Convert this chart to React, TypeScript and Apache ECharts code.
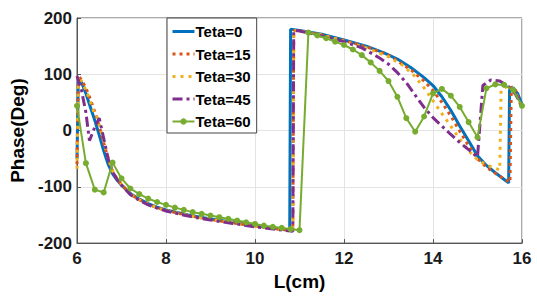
import React, { useEffect, useRef } from "react";
import * as echarts from "echarts";

const seriesNames = ["Teta=0", "Teta=15", "Teta=30", "Teta=45", "Teta=60"];
const xTicks = [6, 8, 10, 12, 14, 16];
const yTicks = [-200, -100, 0, 100, 200];

const teta0: number[][] = [
  [6.0, -50], [6.03, 92], [6.1, 86], [6.2, 66], [6.3, 42], [6.4, 18], [6.5, -8], [6.6, -36],
  [6.7, -60], [6.8, -77], [6.9, -88], [7.0, -97], [7.2, -112], [7.4, -122], [7.6, -130],
  [7.8, -136], [8.0, -141], [8.5, -150], [9.0, -157], [9.5, -163], [10.0, -169], [10.5, -174],
  [10.78, -177], [10.8, 180], [11.0, 178], [11.5, 171], [12.0, 161], [12.5, 150], [12.9, 138],
  [13.2, 127], [13.5, 112], [13.8, 94], [14.0, 80], [14.2, 60], [14.4, 36], [14.6, 8],
  [14.8, -18], [15.0, -45], [15.2, -62], [15.4, -75], [15.6, -87], [15.7, -93], [15.72, 72],
  [15.8, 76], [15.9, 66], [16.0, 46],
];

const teta15: number[][] = [
  [6.0, -60], [6.03, 98], [6.1, 90], [6.2, 76], [6.3, 56], [6.4, 33], [6.5, 8], [6.6, -22],
  [6.7, -50], [6.8, -72], [6.9, -86], [7.0, -96], [7.2, -113], [7.4, -123], [7.6, -131],
  [7.8, -137], [8.0, -142], [8.5, -151], [9.0, -158], [9.5, -164], [10.0, -170], [10.5, -175],
  [10.85, -178], [10.87, 178], [11.0, 177], [11.5, 170], [12.0, 160], [12.5, 149], [13.0, 134],
  [13.5, 108], [13.8, 88], [14.0, 71], [14.2, 50], [14.4, 26], [14.6, -1], [14.8, -27],
  [15.0, -50], [15.2, -65], [15.4, -76], [15.6, -86], [15.73, -92], [15.76, 78], [15.85, 72],
  [16.0, 38],
];

const teta30: number[][] = [
  [6.0, -68], [6.03, 96], [6.1, 88], [6.2, 72], [6.3, 52], [6.4, 28], [6.45, 24], [6.5, 10],
  [6.6, -20], [6.7, -48], [6.8, -72], [6.9, -86], [7.0, -96], [7.2, -113], [7.4, -123],
  [7.6, -131], [7.8, -137], [8.0, -142], [8.5, -151], [9.0, -158], [9.5, -164], [10.0, -170],
  [10.5, -175], [10.85, -178], [10.87, 178], [11.0, 177], [11.5, 170], [12.0, 159], [12.5, 147],
  [13.0, 131], [13.3, 117], [13.55, 100], [13.8, 76], [14.0, 53], [14.2, 30], [14.4, 8],
  [14.6, -15], [14.8, -36], [15.0, -52], [15.2, -61], [15.4, -67], [15.5, -70], [15.53, 72],
  [15.7, 80], [15.85, 68], [16.0, 42],
];

const teta45: number[][] = [
  [6.0, 97], [6.1, 72], [6.2, 32], [6.28, -18], [6.4, 6], [6.5, 22], [6.6, -14], [6.7, -50],
  [6.8, -73], [6.9, -87], [7.0, -97], [7.2, -114], [7.4, -124], [7.6, -132], [7.8, -138],
  [8.0, -143], [8.5, -152], [9.0, -159], [9.5, -165], [10.0, -171], [10.5, -176], [10.85, -179],
  [10.87, 178], [11.0, 177], [11.5, 168], [12.0, 158], [12.4, 147], [12.8, 129], [13.0, 118],
  [13.2, 103], [13.4, 85], [13.6, 63], [13.8, 41], [14.0, 23], [14.2, 8], [14.4, -7],
  [14.6, -21], [14.8, -34], [15.0, -47], [15.12, 80], [15.3, 90], [15.5, 88], [15.7, 78],
  [15.85, 65], [16.0, 44],
];

const teta60: number[][] = [
  [6.0, 44], [6.2, -58], [6.4, -105], [6.6, -110], [6.8, -57], [7.0, -85], [7.2, -103],
  [7.4, -113], [7.6, -121], [7.8, -127], [8.0, -132], [8.2, -137], [8.4, -141], [8.6, -145],
  [8.8, -148], [9.0, -151], [9.2, -154], [9.4, -157], [9.6, -160], [9.8, -163], [10.0, -166],
  [10.2, -169], [10.4, -171], [10.6, -173], [10.8, -175], [11.0, -177], [11.2, 174], [11.4, 169],
  [11.6, 164], [11.8, 158], [12.0, 152], [12.2, 144], [12.4, 134], [12.6, 121], [12.8, 106],
  [13.0, 88], [13.2, 60], [13.4, 22], [13.6, -2], [13.8, 25], [14.0, 66], [14.2, 74],
  [14.4, 62], [14.6, 42], [14.8, 15], [15.0, -12], [15.2, 75], [15.4, 82], [15.6, 81],
  [15.8, 72], [16.0, 44],
];

const allData = [teta0, teta15, teta30, teta45, teta60];
const colors = ["#0072BD", "#D95319", "#EDB120", "#7E2F8E", "#77AC30"];
const dashes: any[] = ["solid", [3, 4], [3, 5], [10, 4, 3, 4], "solid"];
const widths = [3, 3, 3, 3, 2];

const FONT = "'Liberation Sans', Arial, sans-serif";

export default function App() {
  const ref = useRef<HTMLDivElement>(null);
  useEffect(() => {
    if (!ref.current) return;
    const chart = echarts.init(ref.current, undefined, { renderer: "svg" });
    const series = allData.map((d, i) => ({
      name: seriesNames[i],
      type: "line",
      data: d,
      showSymbol: i === 4,
      symbol: i === 4 ? "circle" : "none",
      symbolSize: 6,
      itemStyle: { color: colors[i] },
      lineStyle: { color: colors[i], width: widths[i], type: dashes[i], cap: "butt" },
      z: 2 + i,
    }));
    chart.setOption({
      animation: false,
      backgroundColor: "#ffffff",
      textStyle: { fontFamily: FONT },
      grid: {
        left: 77,
        right: 15,
        top: 18,
        bottom: 50,
        show: true,
        borderColor: "#555555",
        borderWidth: 1,
        backgroundColor: "#ffffff",
      },
      legend: {
        orient: "vertical",
        left: 167,
        top: 18,
        itemWidth: 22,
        itemHeight: 8,
        itemGap: 7.5,
        padding: [6, 6, 4, 4],
        borderColor: "#444444",
        borderWidth: 1,
        backgroundColor: "#ffffff",
        lineStyle: { width: 3 },
        textStyle: { fontFamily: FONT, fontWeight: "bold", fontSize: 15, color: "#000000", padding: [0, 0, 0, -4] },
        data: seriesNames.map((n, i) =>
          i === 4 ? { name: n, lineStyle: { width: 2 } } : { name: n, itemStyle: { opacity: 0 } }
        ),
      },
      xAxis: {
        type: "value",
        min: 6,
        max: 16,
        interval: 2,
        name: "L(cm)",
        nameLocation: "middle",
        nameGap: 24,
        nameTextStyle: { fontFamily: FONT, fontWeight: "bold", fontSize: 19, color: "#000000" },
        axisLine: { show: true, onZero: false, lineStyle: { color: "#555555", width: 1 } },
        axisTick: { show: true, inside: true, length: 4, lineStyle: { color: "#555555" } },
        axisLabel: {
          fontFamily: FONT,
          fontWeight: "bold",
          fontSize: 17,
          color: "#1a1a1a",
          margin: 7,
          formatter: (v: number) => (xTicks.includes(v) ? String(v) : ""),
        },
        splitLine: { show: true, lineStyle: { color: "#e3e3e3", width: 1 } },
      },
      yAxis: {
        type: "value",
        min: -200,
        max: 200,
        interval: 100,
        name: "Phase(Deg)",
        nameLocation: "middle",
        nameGap: 42,
        nameTextStyle: { fontFamily: FONT, fontWeight: "bold", fontSize: 19, color: "#000000" },
        axisLine: { show: true, onZero: false, lineStyle: { color: "#555555", width: 1 } },
        axisTick: { show: true, inside: true, length: 4, lineStyle: { color: "#555555" } },
        axisLabel: {
          fontFamily: FONT,
          fontWeight: "bold",
          fontSize: 17,
          color: "#1a1a1a",
          margin: 5,
          formatter: (v: number) => (yTicks.includes(v) ? String(v) : ""),
        },
        splitLine: { show: true, lineStyle: { color: "#e3e3e3", width: 1 } },
      },
      series,
    });
    return () => chart.dispose();
  }, []);
  return (
    <div
      ref={ref}
      style={{ position: "fixed", left: 0, top: 0, width: 537, height: 296, background: "#fff" }}
    />
  );
}
